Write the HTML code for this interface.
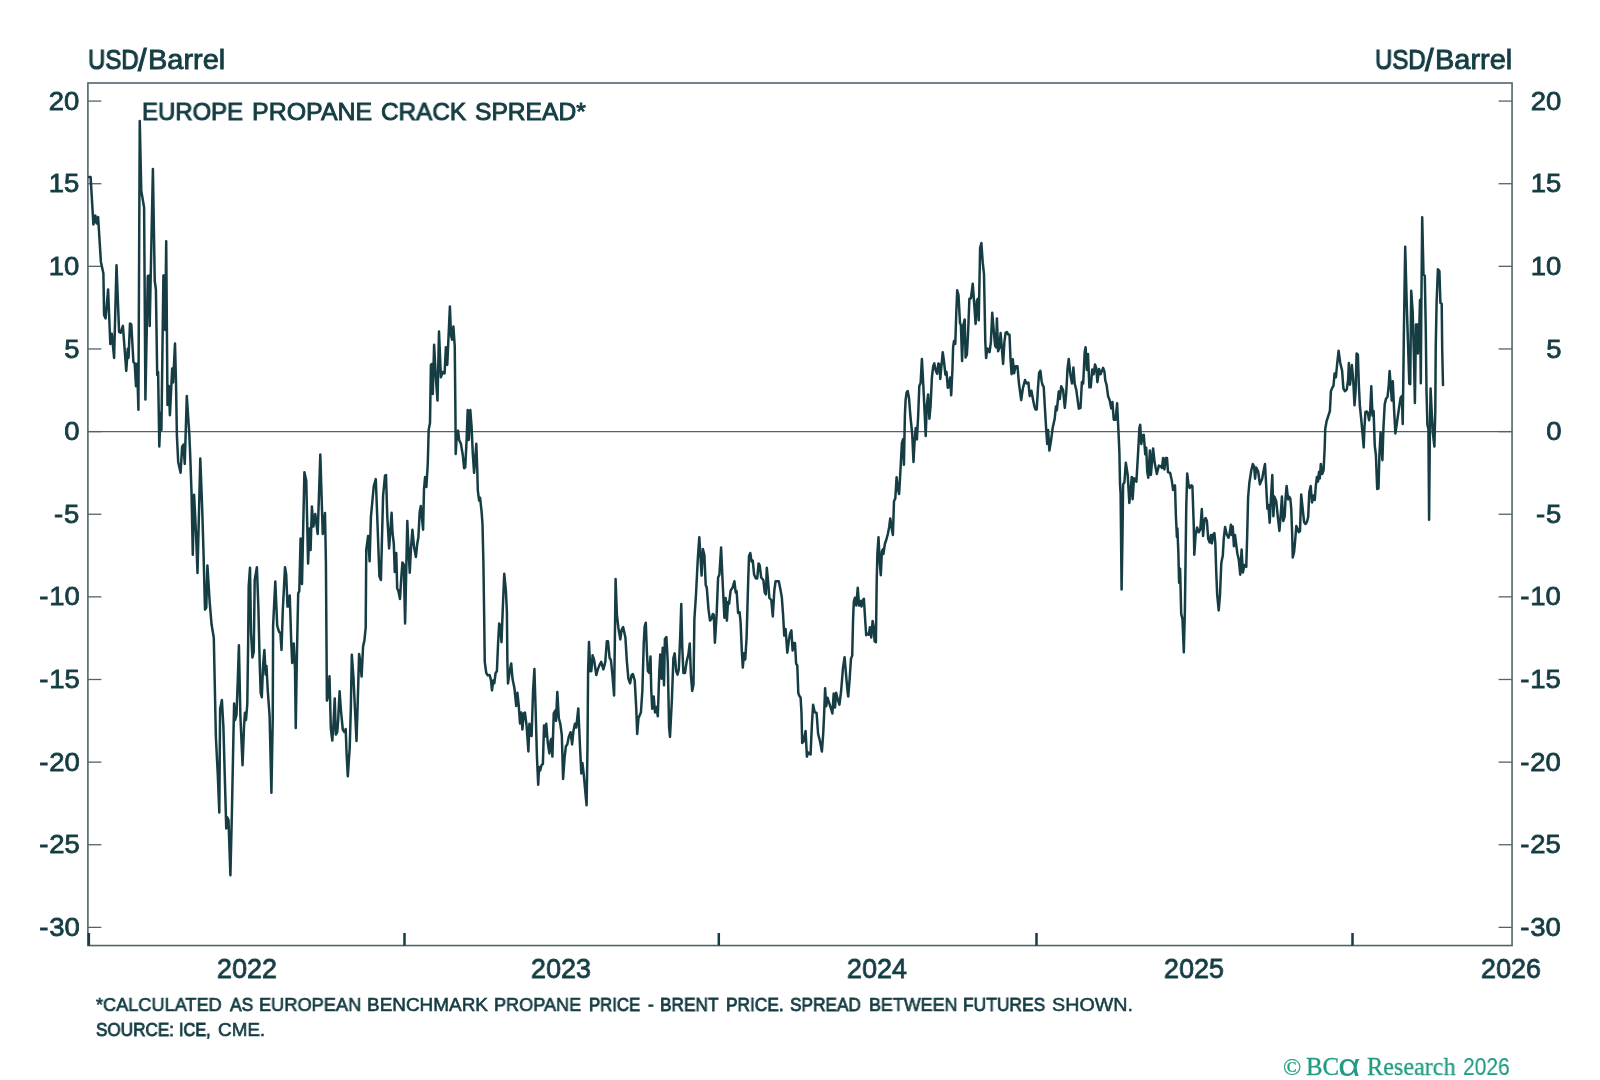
<!DOCTYPE html>
<html><head><meta charset="utf-8"><title>Europe Propane Crack Spread</title>
<style>
html,body{margin:0;padding:0;background:#fff;}
body{width:1600px;height:1080px;position:relative;overflow:hidden;font-family:"Liberation Sans",sans-serif;color:#153d43;}
.t{position:absolute;will-change:transform;white-space:nowrap;line-height:1;-webkit-text-stroke:0.8px #153d43;}
.cr{font-family:"Liberation Serif",serif;color:#1f9c82;-webkit-text-stroke:0;}
</style></head><body>
<svg width="1600" height="1080" viewBox="0 0 1600 1080" style="position:absolute;left:0;top:0">
<rect x="87.9" y="83.0" width="1424.1499999999999" height="862.55" fill="none" stroke="#4e666a" stroke-width="1.6"/>
<line x1="87.9" y1="431.60" x2="1512.05" y2="431.60" stroke="#4e666a" stroke-width="1.15"/>
<line x1="87.9" y1="927.38" x2="101.4" y2="927.38" stroke="#4e666a" stroke-width="1.3"/>
<line x1="1498.55" y1="927.38" x2="1512.05" y2="927.38" stroke="#4e666a" stroke-width="1.3"/>
<line x1="87.9" y1="844.75" x2="101.4" y2="844.75" stroke="#4e666a" stroke-width="1.3"/>
<line x1="1498.55" y1="844.75" x2="1512.05" y2="844.75" stroke="#4e666a" stroke-width="1.3"/>
<line x1="87.9" y1="762.12" x2="101.4" y2="762.12" stroke="#4e666a" stroke-width="1.3"/>
<line x1="1498.55" y1="762.12" x2="1512.05" y2="762.12" stroke="#4e666a" stroke-width="1.3"/>
<line x1="87.9" y1="679.49" x2="101.4" y2="679.49" stroke="#4e666a" stroke-width="1.3"/>
<line x1="1498.55" y1="679.49" x2="1512.05" y2="679.49" stroke="#4e666a" stroke-width="1.3"/>
<line x1="87.9" y1="596.86" x2="101.4" y2="596.86" stroke="#4e666a" stroke-width="1.3"/>
<line x1="1498.55" y1="596.86" x2="1512.05" y2="596.86" stroke="#4e666a" stroke-width="1.3"/>
<line x1="87.9" y1="514.23" x2="101.4" y2="514.23" stroke="#4e666a" stroke-width="1.3"/>
<line x1="1498.55" y1="514.23" x2="1512.05" y2="514.23" stroke="#4e666a" stroke-width="1.3"/>
<line x1="87.9" y1="431.60" x2="101.4" y2="431.60" stroke="#4e666a" stroke-width="1.3"/>
<line x1="1498.55" y1="431.60" x2="1512.05" y2="431.60" stroke="#4e666a" stroke-width="1.3"/>
<line x1="87.9" y1="348.97" x2="101.4" y2="348.97" stroke="#4e666a" stroke-width="1.3"/>
<line x1="1498.55" y1="348.97" x2="1512.05" y2="348.97" stroke="#4e666a" stroke-width="1.3"/>
<line x1="87.9" y1="266.34" x2="101.4" y2="266.34" stroke="#4e666a" stroke-width="1.3"/>
<line x1="1498.55" y1="266.34" x2="1512.05" y2="266.34" stroke="#4e666a" stroke-width="1.3"/>
<line x1="87.9" y1="183.71" x2="101.4" y2="183.71" stroke="#4e666a" stroke-width="1.3"/>
<line x1="1498.55" y1="183.71" x2="1512.05" y2="183.71" stroke="#4e666a" stroke-width="1.3"/>
<line x1="87.9" y1="101.08" x2="101.4" y2="101.08" stroke="#4e666a" stroke-width="1.3"/>
<line x1="1498.55" y1="101.08" x2="1512.05" y2="101.08" stroke="#4e666a" stroke-width="1.3"/>
<line x1="88.85" y1="933" x2="88.85" y2="945.55" stroke="#153d43" stroke-width="2.5"/>
<line x1="404.5" y1="933" x2="404.5" y2="945.55" stroke="#153d43" stroke-width="2.5"/>
<line x1="718.8" y1="933" x2="718.8" y2="945.55" stroke="#153d43" stroke-width="2.5"/>
<line x1="1036.5" y1="933" x2="1036.5" y2="945.55" stroke="#153d43" stroke-width="2.5"/>
<line x1="1352.5" y1="933" x2="1352.5" y2="945.55" stroke="#153d43" stroke-width="2.5"/>
<path d="M89.10,177.10 L90.60,177.10 L93.40,224.40 L95.30,215.40 L96.60,223.40 L98.10,216.90 L100.90,261.90 L103.40,273.60 L104.10,315.00 L105.60,318.40 L108.10,289.40 L110.30,344.00 L111.80,333.75 L114.10,358.00 L116.50,265.30 L119.10,331.90 L120.60,332.80 L122.90,325.90 L126.25,370.90 L127.75,348.75 L128.50,358.00 L130.00,323.40 L131.30,324.40 L133.40,361.90 L134.70,363.40 L136.00,386.25 L137.10,363.75 L138.40,409.70 L139.75,120.90 L141.25,190.60 L144.10,207.50 L145.40,399.40 L147.80,276.00 L149.00,275.60 L149.70,326.00 L152.90,169.00 L154.75,281.00 L155.90,289.50 L157.20,375.00 L158.10,372.00 L159.30,446.50 L160.60,412.50 L161.40,430.00 L163.40,275.60 L164.20,275.60 L165.20,330.00 L166.20,241.25 L167.50,405.00 L168.80,386.00 L169.90,415.30 L172.20,368.40 L173.10,382.50 L175.00,343.50 L176.00,382.50 L176.90,435.60 L178.20,461.90 L180.60,472.75 L182.10,446.90 L183.40,444.60 L184.75,464.00 L186.80,396.00 L189.30,434.00 L190.00,450.00 L191.50,491.90 L192.80,554.70 L194.10,494.70 L196.00,533.00 L197.50,572.90 L200.30,458.50 L202.20,508.75 L203.50,551.90 L205.00,609.60 L206.30,607.50 L207.40,565.40 L209.70,602.30 L211.60,624.80 L213.80,637.80 L214.75,683.75 L215.90,737.50 L217.80,775.00 L219.30,812.50 L220.10,709.00 L221.90,700.00 L223.40,727.00 L224.75,775.00 L226.25,828.40 L227.20,817.20 L228.50,820.00 L230.40,875.30 L231.90,812.50 L233.40,737.50 L234.10,703.60 L235.10,720.00 L236.50,715.00 L237.80,680.00 L238.90,645.30 L240.40,716.00 L242.55,765.30 L244.05,726.00 L244.95,712.80 L246.00,720.00 L247.30,704.00 L248.10,646.25 L248.70,586.00 L250.00,567.80 L251.00,632.00 L252.40,657.50 L253.75,651.90 L254.70,580.00 L256.90,567.25 L258.40,608.40 L259.75,665.00 L260.70,693.00 L261.80,697.25 L263.10,665.00 L264.40,650.00 L265.60,674.40 L266.50,666.00 L267.80,691.25 L269.60,716.00 L271.40,792.80 L272.75,718.75 L273.10,625.60 L275.30,581.50 L277.20,625.60 L279.10,632.00 L280.40,633.00 L281.50,650.00 L282.80,610.00 L285.00,567.25 L286.20,574.40 L287.50,606.60 L288.50,606.60 L289.75,595.50 L291.25,642.50 L292.20,663.00 L293.70,643.40 L295.00,668.75 L295.75,728.00 L296.90,655.60 L298.20,593.40 L299.30,591.25 L300.60,538.60 L302.00,584.00 L304.40,472.20 L306.25,480.60 L308.10,563.50 L309.40,528.40 L310.60,550.00 L311.90,506.50 L313.40,526.60 L315.25,514.00 L317.70,534.00 L320.30,454.50 L322.75,534.00 L325.00,512.90 L325.90,561.25 L326.90,700.60 L328.20,695.00 L329.50,676.25 L330.80,728.00 L332.30,740.60 L333.40,725.00 L334.75,698.40 L335.80,734.50 L337.25,732.00 L338.10,721.00 L339.60,691.25 L340.90,710.00 L342.80,729.70 L344.40,732.00 L345.70,729.00 L346.60,754.00 L347.80,776.30 L349.70,748.00 L350.90,706.00 L351.80,654.70 L353.50,678.00 L355.00,710.00 L356.50,741.00 L357.80,700.00 L359.10,654.00 L360.25,661.25 L361.60,676.60 L363.10,646.25 L364.40,640.60 L365.70,627.50 L366.25,550.00 L368.10,536.00 L369.60,561.25 L370.90,517.20 L373.75,486.25 L375.80,479.10 L377.50,523.75 L379.40,576.25 L380.90,580.00 L383.10,495.60 L385.00,475.60 L386.00,475.00 L387.25,515.60 L389.10,548.40 L391.60,512.80 L392.50,532.50 L393.80,543.75 L394.75,571.90 L396.25,553.00 L397.20,588.75 L398.20,590.00 L400.00,599.00 L401.30,577.50 L402.40,562.50 L403.75,564.40 L405.10,623.40 L406.20,571.90 L407.30,520.90 L408.40,547.50 L409.75,572.80 L410.90,549.40 L412.40,529.70 L414.10,547.50 L415.90,556.90 L417.25,543.75 L418.40,537.20 L419.70,511.90 L420.80,505.90 L421.90,517.50 L423.10,529.70 L424.00,489.40 L425.10,477.00 L426.40,487.00 L427.75,464.00 L428.70,429.70 L430.00,423.00 L430.90,365.00 L431.90,364.00 L432.80,394.00 L434.10,344.75 L436.00,380.00 L437.50,400.60 L439.00,331.60 L440.90,377.20 L442.60,372.00 L444.60,373.40 L445.90,347.20 L447.25,365.00 L449.90,306.50 L451.00,335.00 L452.10,339.70 L453.40,326.60 L454.75,346.25 L455.50,421.25 L455.70,454.00 L456.80,434.40 L458.10,430.60 L459.10,440.00 L460.90,443.75 L462.80,455.00 L464.10,468.20 L465.25,467.20 L466.60,440.00 L467.70,410.00 L468.80,440.00 L470.30,410.00 L471.60,426.90 L472.75,453.00 L474.10,472.80 L475.20,458.75 L476.30,443.75 L477.25,469.00 L477.80,490.30 L479.10,500.60 L480.10,497.80 L481.60,511.90 L482.50,524.00 L483.40,562.50 L484.20,618.75 L484.75,661.90 L486.25,673.00 L487.75,675.40 L489.60,675.00 L490.90,679.70 L492.00,690.40 L493.20,680.60 L494.30,683.40 L495.60,673.00 L496.90,671.25 L498.10,643.00 L499.20,623.40 L500.20,626.00 L501.50,642.20 L502.75,609.40 L504.25,573.75 L505.90,590.60 L506.90,612.00 L507.40,661.90 L508.00,683.40 L509.70,671.25 L511.20,663.40 L512.50,678.75 L514.40,688.00 L516.25,706.00 L517.40,692.80 L518.70,705.00 L520.00,723.40 L521.30,712.50 L522.40,729.40 L523.75,713.40 L524.90,712.50 L526.60,725.60 L528.40,751.50 L529.40,723.75 L530.30,735.00 L531.60,736.00 L533.10,690.00 L534.40,669.00 L535.60,708.75 L536.90,755.60 L538.20,784.70 L539.10,766.90 L540.10,770.60 L541.60,765.00 L542.90,764.00 L544.00,725.60 L544.75,736.90 L546.25,723.75 L547.75,742.50 L549.40,753.40 L550.60,740.60 L551.50,738.75 L552.40,756.60 L553.75,713.40 L555.25,710.60 L556.00,721.00 L557.30,691.90 L558.80,718.00 L560.30,723.75 L561.80,735.00 L563.10,779.00 L564.60,757.50 L565.90,746.25 L567.25,744.40 L568.75,736.90 L570.60,732.20 L572.10,744.40 L573.40,731.25 L574.90,723.75 L576.25,727.50 L578.30,708.40 L580.00,746.25 L581.30,773.40 L582.40,763.00 L583.75,774.40 L585.60,795.00 L586.60,805.30 L587.50,746.25 L588.10,671.25 L589.00,642.00 L590.30,671.25 L591.30,671.25 L592.60,655.30 L594.10,660.00 L596.30,675.00 L597.80,669.40 L599.30,665.60 L601.20,661.90 L603.40,669.40 L605.30,661.90 L606.80,641.25 L608.00,641.25 L609.60,658.00 L610.90,660.00 L612.40,675.00 L614.10,695.60 L614.70,652.50 L615.60,579.00 L616.90,615.00 L618.40,628.00 L620.30,639.40 L621.60,630.00 L623.10,627.00 L625.40,637.50 L626.90,661.90 L628.40,678.75 L630.10,683.40 L631.60,675.00 L632.90,674.00 L634.75,680.60 L636.25,708.75 L637.20,734.00 L638.50,718.00 L640.90,712.50 L642.40,690.00 L643.75,643.00 L644.70,626.25 L645.80,622.70 L646.90,652.50 L647.90,671.25 L649.40,673.00 L650.50,656.60 L651.25,690.00 L652.20,708.75 L653.70,696.60 L655.00,712.50 L656.30,706.90 L657.80,716.25 L659.30,671.25 L660.25,654.40 L661.60,678.75 L662.70,647.80 L664.00,685.30 L664.90,639.00 L666.40,637.00 L667.75,661.90 L669.10,727.50 L670.00,736.90 L671.90,699.40 L673.40,658.00 L674.70,653.40 L676.20,671.25 L677.50,674.60 L678.80,669.40 L680.30,633.75 L681.25,604.00 L682.25,646.90 L683.40,673.00 L685.00,673.00 L686.60,661.90 L688.40,654.40 L689.75,643.50 L690.90,675.00 L692.20,691.00 L693.50,684.40 L694.40,618.75 L695.90,596.25 L697.80,558.75 L699.30,537.20 L700.60,558.75 L701.60,575.60 L702.90,549.00 L704.40,555.00 L705.70,585.00 L706.80,587.80 L708.50,609.40 L710.00,620.60 L711.50,618.75 L712.80,614.00 L713.80,615.00 L714.90,642.75 L716.60,615.00 L718.10,577.50 L719.40,574.70 L721.10,547.50 L722.60,581.25 L724.40,617.80 L725.60,598.00 L726.90,620.60 L728.00,601.90 L729.10,603.75 L730.60,590.60 L732.50,587.80 L734.40,581.25 L735.70,592.50 L736.60,591.00 L738.10,613.00 L739.60,612.20 L740.60,622.50 L741.90,652.50 L742.80,667.60 L744.10,653.20 L745.25,659.40 L746.60,637.50 L747.90,590.60 L749.00,556.00 L750.30,553.00 L751.60,561.60 L752.75,560.60 L754.10,574.70 L755.90,578.40 L757.25,578.40 L758.60,563.40 L759.70,565.30 L761.20,577.50 L763.40,580.30 L764.75,592.50 L765.90,594.40 L766.80,567.75 L768.10,581.25 L769.40,598.00 L771.30,600.00 L772.80,616.50 L774.30,590.60 L775.60,581.25 L778.80,581.25 L780.30,588.75 L781.80,597.20 L783.10,615.00 L784.25,635.60 L785.60,629.00 L787.30,652.70 L788.75,641.25 L790.00,633.75 L791.40,630.40 L792.60,650.50 L793.80,643.00 L795.00,643.00 L796.10,663.60 L797.30,665.50 L798.30,693.00 L799.40,696.00 L800.60,697.60 L801.50,713.00 L802.20,743.00 L803.70,741.25 L805.60,731.00 L806.90,756.60 L808.20,752.50 L809.30,753.40 L810.60,754.40 L811.90,724.40 L813.10,704.70 L814.75,712.20 L816.60,713.00 L818.10,733.75 L820.00,741.25 L821.90,751.60 L823.20,733.75 L824.10,715.00 L825.10,688.20 L826.20,706.30 L827.50,697.75 L829.30,703.40 L831.10,709.00 L832.40,713.50 L833.70,693.60 L835.00,707.60 L836.15,692.85 L837.85,699.70 L839.45,704.65 L841.10,691.25 L843.00,667.75 L844.60,657.20 L846.10,675.25 L847.75,693.30 L848.25,696.60 L849.65,679.00 L850.95,658.90 L852.20,655.60 L853.10,618.75 L853.80,601.90 L854.90,597.75 L856.25,605.60 L857.75,587.80 L859.10,605.60 L860.40,601.00 L861.50,606.60 L862.80,600.00 L863.90,598.70 L865.10,618.75 L866.20,635.25 L867.50,633.75 L868.80,634.70 L869.90,627.20 L871.25,637.50 L872.60,621.00 L873.70,627.20 L874.60,641.25 L875.90,642.20 L876.70,581.25 L877.40,553.00 L878.50,537.30 L879.70,562.50 L880.80,575.25 L881.90,551.25 L882.90,549.40 L883.40,554.00 L884.90,543.75 L886.25,540.00 L887.90,533.70 L889.20,527.00 L890.25,518.50 L891.60,527.50 L892.90,535.00 L894.00,501.25 L895.30,498.40 L896.60,477.25 L897.75,488.00 L899.10,494.00 L900.40,471.25 L901.90,443.00 L903.00,439.40 L903.90,464.70 L904.90,415.00 L905.60,400.00 L906.60,392.50 L907.70,391.00 L909.00,398.00 L910.30,415.00 L912.20,433.75 L913.50,461.90 L914.60,441.25 L915.75,428.00 L916.90,439.40 L918.20,415.00 L919.30,386.00 L920.60,383.00 L921.90,358.90 L923.40,386.90 L924.75,415.00 L925.70,436.00 L926.80,405.60 L928.10,394.40 L929.40,418.75 L930.60,405.60 L931.90,377.50 L933.20,366.25 L934.30,363.40 L935.60,370.00 L937.10,373.75 L938.40,363.40 L939.40,364.40 L940.30,379.00 L941.25,368.00 L942.75,352.20 L944.10,362.50 L945.40,374.70 L946.50,371.90 L947.80,387.80 L948.75,386.90 L950.10,377.50 L951.20,395.30 L952.50,368.00 L953.10,347.50 L954.00,341.00 L955.30,343.75 L956.25,313.75 L957.20,290.30 L958.50,295.00 L960.00,323.00 L960.90,325.00 L962.10,361.00 L963.40,325.00 L964.70,319.40 L965.60,357.40 L966.90,354.50 L968.10,332.50 L969.40,298.75 L970.90,298.40 L972.75,283.75 L974.10,302.50 L975.60,324.00 L976.90,300.60 L977.80,298.75 L978.75,320.30 L980.10,248.00 L981.40,243.00 L982.70,262.20 L984.00,274.40 L985.30,341.90 L986.10,358.00 L987.40,348.40 L988.60,349.50 L989.60,352.20 L990.90,341.90 L992.25,312.80 L993.75,330.60 L995.10,345.60 L996.10,347.50 L996.90,318.40 L998.10,351.25 L999.40,347.50 L1000.60,333.00 L1001.80,347.50 L1003.10,364.00 L1004.40,341.90 L1005.60,332.90 L1006.90,332.00 L1008.20,334.40 L1009.50,334.75 L1010.50,358.75 L1011.60,374.20 L1012.80,359.35 L1014.10,373.30 L1015.60,366.25 L1017.50,366.25 L1018.90,383.00 L1021.20,400.20 L1022.80,388.75 L1025.00,380.00 L1026.60,383.50 L1028.40,382.60 L1029.75,396.25 L1031.40,390.80 L1032.90,399.00 L1034.35,406.10 L1035.40,409.40 L1036.70,409.60 L1038.00,387.80 L1039.10,372.80 L1040.40,370.70 L1041.60,381.20 L1042.50,384.80 L1043.70,386.90 L1045.00,409.40 L1046.10,427.90 L1047.20,444.00 L1048.10,430.00 L1049.40,450.60 L1050.90,441.25 L1052.80,427.20 L1054.70,418.75 L1055.90,406.50 L1056.85,410.30 L1058.70,391.60 L1059.80,399.00 L1061.25,386.25 L1063.10,390.15 L1064.80,407.95 L1066.20,393.45 L1067.50,369.00 L1068.75,359.00 L1070.25,373.75 L1072.00,383.50 L1073.40,367.50 L1074.75,384.00 L1076.25,389.70 L1078.80,408.70 L1080.50,407.95 L1081.90,382.10 L1083.20,383.50 L1084.70,352.10 L1085.60,347.25 L1086.90,370.00 L1088.00,354.00 L1089.40,387.35 L1090.75,387.35 L1092.20,369.50 L1093.70,374.20 L1095.00,364.40 L1096.30,368.50 L1097.40,382.20 L1099.10,369.00 L1100.60,374.20 L1103.10,367.90 L1104.40,371.45 L1105.30,380.30 L1106.60,385.00 L1108.10,396.25 L1109.60,400.00 L1111.30,408.40 L1112.40,401.90 L1113.75,419.70 L1115.60,419.70 L1117.10,403.30 L1118.40,430.00 L1119.40,452.50 L1120.00,484.00 L1120.60,493.75 L1121.60,589.40 L1122.50,535.00 L1123.10,484.40 L1124.40,482.50 L1125.80,462.80 L1127.70,475.00 L1129.35,503.00 L1130.75,488.00 L1131.75,476.90 L1132.65,499.20 L1134.00,478.30 L1135.20,479.10 L1136.40,481.60 L1138.10,452.50 L1139.40,428.00 L1140.20,424.75 L1141.30,444.00 L1142.40,435.60 L1143.75,434.70 L1145.25,454.40 L1146.20,447.80 L1147.20,471.00 L1148.30,477.80 L1149.90,450.60 L1150.90,475.00 L1153.10,448.40 L1154.70,462.80 L1156.85,474.00 L1158.90,465.60 L1160.75,466.10 L1162.00,468.00 L1163.10,458.00 L1164.40,469.40 L1165.80,458.00 L1167.00,458.00 L1168.00,472.20 L1170.15,473.00 L1171.80,480.60 L1173.10,490.00 L1175.00,485.30 L1175.90,516.25 L1176.90,536.90 L1177.40,528.40 L1178.40,553.75 L1179.10,582.80 L1180.10,568.75 L1181.20,613.75 L1182.50,619.40 L1183.80,652.20 L1184.90,610.00 L1186.25,506.90 L1187.20,473.50 L1188.50,484.40 L1189.60,488.00 L1191.30,485.30 L1192.40,486.00 L1193.75,525.60 L1194.30,554.70 L1195.60,535.00 L1197.10,527.50 L1198.80,532.20 L1200.30,529.40 L1201.80,509.00 L1203.10,536.00 L1204.40,520.00 L1205.60,518.00 L1206.90,521.00 L1208.20,538.75 L1209.70,542.50 L1211.00,535.00 L1211.90,543.40 L1213.10,535.00 L1214.40,533.00 L1215.30,542.50 L1216.25,572.50 L1217.20,595.00 L1218.70,610.40 L1220.00,595.00 L1221.30,563.00 L1222.80,555.60 L1223.75,538.75 L1225.10,527.00 L1226.60,534.00 L1228.40,537.80 L1229.40,535.00 L1230.90,524.70 L1231.80,535.00 L1232.75,526.60 L1233.90,546.25 L1235.00,535.00 L1236.30,545.30 L1237.40,553.75 L1238.75,559.40 L1240.25,574.75 L1241.60,549.60 L1242.90,572.50 L1244.40,565.00 L1246.25,566.90 L1247.20,535.00 L1248.10,497.50 L1249.40,482.50 L1251.30,470.30 L1252.80,464.00 L1254.10,466.60 L1255.10,478.75 L1256.20,467.50 L1258.10,471.25 L1259.90,484.40 L1262.20,478.75 L1263.50,471.25 L1265.00,464.00 L1266.30,488.00 L1267.40,508.75 L1268.40,505.00 L1269.70,522.80 L1271.00,497.50 L1272.30,475.00 L1273.40,516.25 L1274.40,496.60 L1276.25,501.25 L1277.75,516.25 L1279.40,530.90 L1280.90,512.50 L1281.90,496.60 L1283.20,521.00 L1284.70,516.25 L1285.60,497.50 L1286.60,485.90 L1288.10,499.40 L1289.00,496.60 L1290.30,498.40 L1291.25,508.75 L1292.20,535.00 L1292.75,557.50 L1294.10,551.90 L1295.00,542.50 L1296.30,526.00 L1297.40,528.40 L1298.75,532.20 L1300.00,531.00 L1301.20,494.60 L1302.60,508.00 L1304.10,522.00 L1305.50,524.00 L1306.90,522.00 L1308.20,517.00 L1309.30,492.00 L1310.70,486.00 L1312.00,502.50 L1313.50,495.40 L1314.75,500.00 L1315.80,486.00 L1316.90,477.00 L1318.00,481.50 L1319.00,472.00 L1319.80,478.50 L1320.80,464.00 L1322.20,474.00 L1323.60,470.00 L1324.70,447.50 L1325.25,428.75 L1326.60,421.25 L1328.40,415.60 L1329.90,411.00 L1330.90,391.25 L1332.00,388.40 L1333.50,385.60 L1334.60,373.40 L1335.90,377.20 L1337.25,363.00 L1338.60,350.80 L1340.25,363.00 L1342.10,370.60 L1343.40,388.40 L1344.90,391.25 L1346.80,389.40 L1348.10,380.00 L1348.90,363.00 L1350.00,384.70 L1351.10,375.30 L1351.90,365.00 L1353.20,380.00 L1354.50,405.30 L1355.60,391.25 L1356.60,353.40 L1357.90,354.70 L1358.80,383.75 L1359.90,406.25 L1361.25,419.40 L1362.60,434.40 L1363.70,447.50 L1364.40,428.75 L1365.40,411.90 L1366.90,411.50 L1368.00,413.75 L1369.10,420.30 L1370.25,410.00 L1371.30,386.30 L1372.50,415.60 L1373.60,411.00 L1374.75,445.60 L1375.90,455.00 L1377.20,489.00 L1378.50,488.40 L1379.40,455.00 L1380.60,432.50 L1381.50,447.50 L1382.40,460.25 L1383.40,428.75 L1384.70,404.40 L1386.00,398.75 L1387.50,396.90 L1388.60,387.50 L1389.60,371.00 L1390.90,387.50 L1391.80,400.60 L1392.80,381.20 L1394.10,410.00 L1395.40,433.40 L1396.90,423.00 L1398.75,410.00 L1400.60,397.80 L1401.90,396.00 L1402.70,424.00 L1403.40,372.50 L1403.90,331.00 L1405.20,246.80 L1406.70,302.90 L1408.20,349.60 L1409.30,383.75 L1410.20,384.25 L1411.20,290.70 L1412.70,312.20 L1414.20,368.40 L1414.90,402.90 L1416.00,324.40 L1417.40,324.40 L1417.90,353.40 L1419.20,331.00 L1420.00,300.00 L1420.80,383.30 L1421.30,312.20 L1422.20,217.20 L1423.50,274.80 L1424.80,275.75 L1425.80,331.00 L1426.50,391.25 L1427.40,425.00 L1428.40,428.75 L1429.10,519.70 L1429.90,428.75 L1430.60,388.60 L1431.60,410.00 L1432.90,433.40 L1434.40,446.60 L1435.30,410.00 L1435.70,349.60 L1436.60,302.90 L1437.90,269.20 L1439.40,271.00 L1440.40,302.90 L1441.70,303.80 L1442.20,349.60 L1443.00,385.00" fill="none" stroke="#153d43" stroke-width="2.5" stroke-linejoin="round" stroke-linecap="round"/>
</svg>
<div class="t yl" style="font-size:26.3px;top:913.92px;right:1520.45px;transform-origin:100% 50%;transform:scaleX(1.045);"><span style="margin-right:0.9px">-</span>30</div>
<div class="t yl" style="font-size:26.3px;top:913.92px;right:38.799999999999955px;transform-origin:100% 50%;transform:scaleX(1.045);"><span style="margin-right:0.9px">-</span>30</div>
<div class="t yl" style="font-size:26.3px;top:831.29px;right:1520.45px;transform-origin:100% 50%;transform:scaleX(1.045);"><span style="margin-right:0.9px">-</span>25</div>
<div class="t yl" style="font-size:26.3px;top:831.29px;right:38.799999999999955px;transform-origin:100% 50%;transform:scaleX(1.045);"><span style="margin-right:0.9px">-</span>25</div>
<div class="t yl" style="font-size:26.3px;top:748.66px;right:1520.45px;transform-origin:100% 50%;transform:scaleX(1.045);"><span style="margin-right:0.9px">-</span>20</div>
<div class="t yl" style="font-size:26.3px;top:748.66px;right:38.799999999999955px;transform-origin:100% 50%;transform:scaleX(1.045);"><span style="margin-right:0.9px">-</span>20</div>
<div class="t yl" style="font-size:26.3px;top:666.03px;right:1520.45px;transform-origin:100% 50%;transform:scaleX(1.045);"><span style="margin-right:0.9px">-</span>15</div>
<div class="t yl" style="font-size:26.3px;top:666.03px;right:38.799999999999955px;transform-origin:100% 50%;transform:scaleX(1.045);"><span style="margin-right:0.9px">-</span>15</div>
<div class="t yl" style="font-size:26.3px;top:583.40px;right:1520.45px;transform-origin:100% 50%;transform:scaleX(1.045);"><span style="margin-right:0.9px">-</span>10</div>
<div class="t yl" style="font-size:26.3px;top:583.40px;right:38.799999999999955px;transform-origin:100% 50%;transform:scaleX(1.045);"><span style="margin-right:0.9px">-</span>10</div>
<div class="t yl" style="font-size:26.3px;top:500.77px;right:1520.45px;transform-origin:100% 50%;transform:scaleX(1.045);"><span style="margin-right:0.9px">-</span>5</div>
<div class="t yl" style="font-size:26.3px;top:500.77px;right:38.799999999999955px;transform-origin:100% 50%;transform:scaleX(1.045);"><span style="margin-right:0.9px">-</span>5</div>
<div class="t yl" style="font-size:26.3px;top:418.14px;right:1520.45px;transform-origin:100% 50%;transform:scaleX(1.045);">0</div>
<div class="t yl" style="font-size:26.3px;top:418.14px;right:38.799999999999955px;transform-origin:100% 50%;transform:scaleX(1.045);">0</div>
<div class="t yl" style="font-size:26.3px;top:335.51px;right:1520.45px;transform-origin:100% 50%;transform:scaleX(1.045);">5</div>
<div class="t yl" style="font-size:26.3px;top:335.51px;right:38.799999999999955px;transform-origin:100% 50%;transform:scaleX(1.045);">5</div>
<div class="t yl" style="font-size:26.3px;top:252.88px;right:1520.45px;transform-origin:100% 50%;transform:scaleX(1.045);">10</div>
<div class="t yl" style="font-size:26.3px;top:252.88px;right:38.799999999999955px;transform-origin:100% 50%;transform:scaleX(1.045);">10</div>
<div class="t yl" style="font-size:26.3px;top:170.25px;right:1520.45px;transform-origin:100% 50%;transform:scaleX(1.045);">15</div>
<div class="t yl" style="font-size:26.3px;top:170.25px;right:38.799999999999955px;transform-origin:100% 50%;transform:scaleX(1.045);">15</div>
<div class="t yl" style="font-size:26.3px;top:87.62px;right:1520.45px;transform-origin:100% 50%;transform:scaleX(1.045);">20</div>
<div class="t yl" style="font-size:26.3px;top:87.62px;right:38.799999999999955px;transform-origin:100% 50%;transform:scaleX(1.045);">20</div>
<div class="t xl" style="font-size:27.1px;top:955.16px;left:96.5px;width:300px;text-align:center;transform-origin:50% 50%;transform:scaleX(0.995);">2022</div>
<div class="t xl" style="font-size:27.1px;top:955.16px;left:411px;width:300px;text-align:center;transform-origin:50% 50%;transform:scaleX(0.995);">2023</div>
<div class="t xl" style="font-size:27.1px;top:955.16px;left:727px;width:300px;text-align:center;transform-origin:50% 50%;transform:scaleX(0.995);">2024</div>
<div class="t xl" style="font-size:27.1px;top:955.16px;left:1044px;width:300px;text-align:center;transform-origin:50% 50%;transform:scaleX(0.995);">2025</div>
<div class="t xl" style="font-size:27.1px;top:955.16px;left:1360.5px;width:300px;text-align:center;transform-origin:50% 50%;transform:scaleX(0.995);">2026</div>
<div class="t" style="font-family:'Liberation Sans',sans-serif;font-size:27.6px;left:87.85px;top:45.74px;transform-origin:0 23.36px;transform:scale(0.8700,1.0);-webkit-text-stroke:1.150px #153d43;">USD</div>
<div class="t" style="font-family:'Liberation Sans',sans-serif;font-size:31px;left:138.27px;top:45.36px;transform-origin:0 26.24px;transform:scale(0.9874,1.0);-webkit-text-stroke:1.150px #153d43;">/</div>
<div class="t" style="font-family:'Liberation Sans',sans-serif;font-size:27.6px;left:148.18px;top:45.74px;transform-origin:0 23.36px;transform:scale(1.0500,1.0);-webkit-text-stroke:0.857px #153d43;">Barrel</div>
<div class="t" style="font-family:'Liberation Sans',sans-serif;font-size:27.6px;left:1374.55px;top:45.74px;transform-origin:0 23.36px;transform:scale(0.8700,1.0);-webkit-text-stroke:1.150px #153d43;">USD</div>
<div class="t" style="font-family:'Liberation Sans',sans-serif;font-size:31px;left:1424.97px;top:45.36px;transform-origin:0 26.24px;transform:scale(0.9874,1.0);-webkit-text-stroke:1.150px #153d43;">/</div>
<div class="t" style="font-family:'Liberation Sans',sans-serif;font-size:27.6px;left:1434.88px;top:45.74px;transform-origin:0 23.36px;transform:scale(1.0500,1.0);-webkit-text-stroke:0.857px #153d43;">Barrel</div>
<div class="t" style="font-family:'Liberation Sans',sans-serif;font-size:24.6px;left:142.01px;top:100.48px;transform-origin:0 20.82px;transform:scale(0.9724,1.0);-webkit-text-stroke:0.997px #153d43;">EUROPE</div>
<div class="t" style="font-family:'Liberation Sans',sans-serif;font-size:24.6px;left:252.14px;top:100.48px;transform-origin:0 20.82px;transform:scale(1.0155,1.0);-webkit-text-stroke:0.863px #153d43;">PROPANE</div>
<div class="t" style="font-family:'Liberation Sans',sans-serif;font-size:24.6px;left:380.96px;top:100.48px;transform-origin:0 20.82px;transform:scale(0.9873,1.0);-webkit-text-stroke:0.950px #153d43;">CRACK</div>
<div class="t" style="font-family:'Liberation Sans',sans-serif;font-size:24.6px;left:474.72px;top:100.48px;transform-origin:0 20.82px;transform:scale(0.9980,1.0);-webkit-text-stroke:0.916px #153d43;">SPREAD*</div>
<div class="t" style="font-family:'Liberation Sans',sans-serif;font-size:18.9px;left:96.15px;top:996.40px;transform-origin:0 16.00px;transform:scale(0.9601,1.0);-webkit-text-stroke:0.699px #153d43;">*CALCULATED</div>
<div class="t" style="font-family:'Liberation Sans',sans-serif;font-size:18.9px;left:229.71px;top:996.40px;transform-origin:0 16.00px;transform:scale(0.9258,1.0);-webkit-text-stroke:0.787px #153d43;">AS</div>
<div class="t" style="font-family:'Liberation Sans',sans-serif;font-size:18.9px;left:258.88px;top:996.40px;transform-origin:0 16.00px;transform:scale(0.9641,1.0);-webkit-text-stroke:0.689px #153d43;">EUROPEAN</div>
<div class="t" style="font-family:'Liberation Sans',sans-serif;font-size:18.9px;left:366.79px;top:996.40px;transform-origin:0 16.00px;transform:scale(1.0024,1.0);-webkit-text-stroke:0.599px #153d43;">BENCHMARK</div>
<div class="t" style="font-family:'Liberation Sans',sans-serif;font-size:18.9px;left:494.39px;top:996.40px;transform-origin:0 16.00px;transform:scale(0.9573,1.0);-webkit-text-stroke:0.706px #153d43;">PROPANE</div>
<div class="t" style="font-family:'Liberation Sans',sans-serif;font-size:18.9px;left:589.05px;top:996.40px;transform-origin:0 16.00px;transform:scale(0.8863,1.0);-webkit-text-stroke:0.896px #153d43;">PRICE</div>
<div class="t" style="font-family:'Liberation Sans',sans-serif;font-size:18.9px;left:647.67px;top:996.40px;transform-origin:0 16.00px;transform:scale(0.9035,1.0);-webkit-text-stroke:0.847px #153d43;">-</div>
<div class="t" style="font-family:'Liberation Sans',sans-serif;font-size:18.9px;left:660.24px;top:996.40px;transform-origin:0 16.00px;transform:scale(0.9148,1.0);-webkit-text-stroke:0.816px #153d43;">BRENT</div>
<div class="t" style="font-family:'Liberation Sans',sans-serif;font-size:18.9px;left:726.49px;top:996.40px;transform-origin:0 16.00px;transform:scale(0.9149,1.0);-webkit-text-stroke:0.816px #153d43;">PRICE.</div>
<div class="t" style="font-family:'Liberation Sans',sans-serif;font-size:18.9px;left:790.12px;top:996.40px;transform-origin:0 16.00px;transform:scale(0.9129,1.0);-webkit-text-stroke:0.821px #153d43;">SPREAD</div>
<div class="t" style="font-family:'Liberation Sans',sans-serif;font-size:18.9px;left:868.92px;top:996.40px;transform-origin:0 16.00px;transform:scale(0.9470,1.0);-webkit-text-stroke:0.732px #153d43;">BETWEEN</div>
<div class="t" style="font-family:'Liberation Sans',sans-serif;font-size:18.9px;left:963.23px;top:996.40px;transform-origin:0 16.00px;transform:scale(0.9228,1.0);-webkit-text-stroke:0.795px #153d43;">FUTURES</div>
<div class="t" style="font-family:'Liberation Sans',sans-serif;font-size:18.9px;left:1051.68px;top:996.40px;transform-origin:0 16.00px;transform:scale(1.0432,1.0);-webkit-text-stroke:0.511px #153d43;">SHOWN.</div>
<div class="t" style="font-family:'Liberation Sans',sans-serif;font-size:18.9px;left:95.66px;top:1020.50px;transform-origin:0 16.00px;transform:scale(0.9064,1.0);-webkit-text-stroke:0.839px #153d43;">SOURCE:</div>
<div class="t" style="font-family:'Liberation Sans',sans-serif;font-size:18.9px;left:178.96px;top:1020.50px;transform-origin:0 16.00px;transform:scale(0.8593,1.0);-webkit-text-stroke:0.976px #153d43;">ICE,</div>
<div class="t" style="font-family:'Liberation Sans',sans-serif;font-size:18.9px;left:218.10px;top:1020.50px;transform-origin:0 16.00px;transform:scale(0.9960,1.0);-webkit-text-stroke:0.614px #153d43;">CME.</div>
<div class="t" style="font-family:'Liberation Serif',serif;font-size:24px;left:1282.74px;top:1055.18px;transform-origin:0 20.32px;transform:scale(0.9894,1.0);color:#1f9c82;-webkit-text-stroke:0.3px #1f9c82;">©</div>
<div class="t" style="font-family:'Liberation Serif',serif;font-size:24.3px;left:1306.08px;top:1054.93px;transform-origin:0 20.57px;transform:scale(1.0257,1.0);color:#1f9c82;-webkit-text-stroke:0.3px #1f9c82;">BC</div>
<div class="t" style="font-family:'Liberation Sans',sans-serif;font-size:30.5px;left:1337.66px;top:1049.98px;transform-origin:0 25.82px;transform:scale(1.2761,1.0);color:#1f9c82;-webkit-text-stroke:0;">&#945;</div>
<div class="t" style="font-family:'Liberation Serif',serif;font-size:24.3px;left:1366.96px;top:1054.93px;transform-origin:0 20.57px;transform:scale(0.9947,1.0);color:#1f9c82;-webkit-text-stroke:0.3px #1f9c82;">Research</div>
<div class="t" style="font-family:'Liberation Sans',sans-serif;font-size:23px;left:1463.17px;top:1056.03px;transform-origin:0 19.47px;transform:scale(0.9148,1.0);color:#1f9c82;-webkit-text-stroke:0.15px #1f9c82;">2026</div>
</body></html>
